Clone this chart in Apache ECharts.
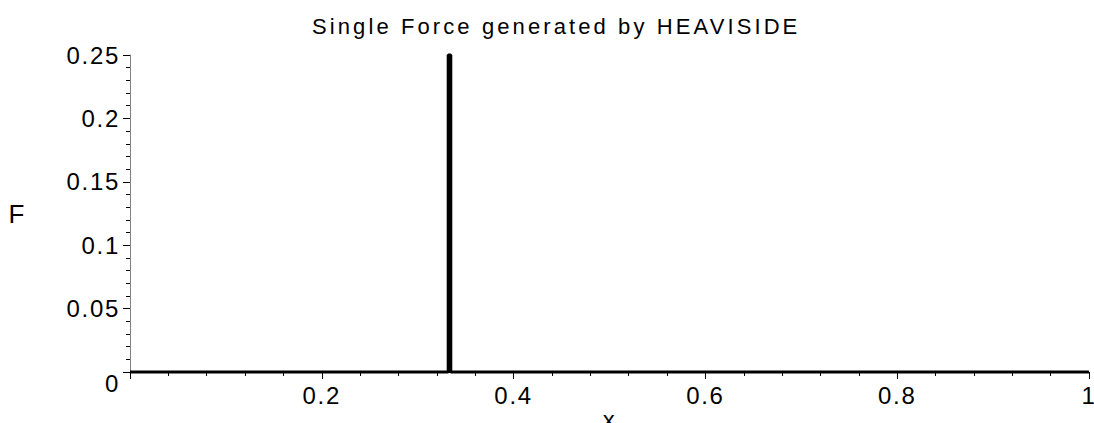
<!DOCTYPE html>
<html>
<head>
<meta charset="utf-8">
<script src="https://cdn.jsdelivr.net/npm/echarts@6/dist/echarts.min.js"></script>
<style>
html,body{margin:0;padding:0;background:#fff}
#c{width:1094px;height:423px}
#c text{letter-spacing:1.7px}
#c text[style*="22px"]{letter-spacing:3.1px}
</style>
</head>
<body>
<div id="c"></div>
<script>
const titleText = 'Single Force generated by HEAVISIDE';
const xName = 'x';
const yName = 'F';
const forceX = [0, 0.3318, 0.3318, 0.3345, 0.3345, 1];
const forceY = [0, 0, 0.25, 0.25, 0, 0];
const xTicks = [0.2, 0.4, 0.6, 0.8, 1];
const yTicks = [0, 0.05, 0.1, 0.15, 0.2, 0.25];

const FONT = '"Liberation Sans", Arial, sans-serif';
const chart = echarts.init(document.getElementById('c'), null, {renderer: 'svg'});
chart.setOption({
  animation: false,
  backgroundColor: '#fff',
  title: {
    text: titleText, left: 307, top: 10,
    textStyle: {fontFamily: FONT, fontSize: 22, fontWeight: 'normal', color: '#000'}
  },
  grid: {left: 130, right: 5, top: 55, bottom: 51, containLabel: false, outerBoundsMode: 'none'},
  xAxis: {
    type: 'value', min: 0, max: 1, interval: 0.2,
    name: xName, nameLocation: 'middle', nameGap: 35, nameMoveOverlap: false,
    nameTextStyle: {fontFamily: FONT, fontSize: 24, color: '#000'},
    axisLine: {onZero: false, lineStyle: {color: '#000', width: 1}},
    axisTick: {show: true, length: 7, inside: false, lineStyle: {color: '#000'}},
    minorTick: {show: true, splitNumber: 5, length: 4, lineStyle: {color: '#000'}},
    splitLine: {show: false},
    axisLabel: {
      showMinLabel: false, margin: 11, fontFamily: FONT, fontSize: 24, color: '#000',
      formatter: v => (xTicks.some(t => Math.abs(t - v) < 1e-9) ? String(+v.toFixed(2)) : '')
    }
  },
  yAxis: {
    type: 'value', min: 0, max: 0.25, interval: 0.05,
    name: yName, nameLocation: 'middle', nameRotate: 0, nameGap: 104, nameMoveOverlap: false,
    nameTextStyle: {fontFamily: FONT, fontSize: 26, color: '#000'},
    axisLine: {show: true, lineStyle: {color: '#808080', width: 1}},
    axisTick: {show: true, length: 7, lineStyle: {color: '#000'}},
    minorTick: {show: true, splitNumber: 5, length: 4, lineStyle: {color: '#000'}},
    splitLine: {show: false},
    axisLabel: {
      margin: 10, fontFamily: FONT, fontSize: 24, color: '#000',
      formatter: v => {
        const s = String(+v.toFixed(2));
        return Math.abs(v) < 1e-9 ? '{z|' + s + '}' : s;
      },
      rich: {z: {fontFamily: FONT, fontSize: 24, color: '#000', padding: [22, 0, 0, 0]}}
    }
  },
  series: [{
    type: 'line',
    data: forceX.map((x, i) => [x, forceY[i]]),
    showSymbol: false,
    lineStyle: {color: '#000', width: 3},
    clip: false
  }]
});
</script>
</body>
</html>
